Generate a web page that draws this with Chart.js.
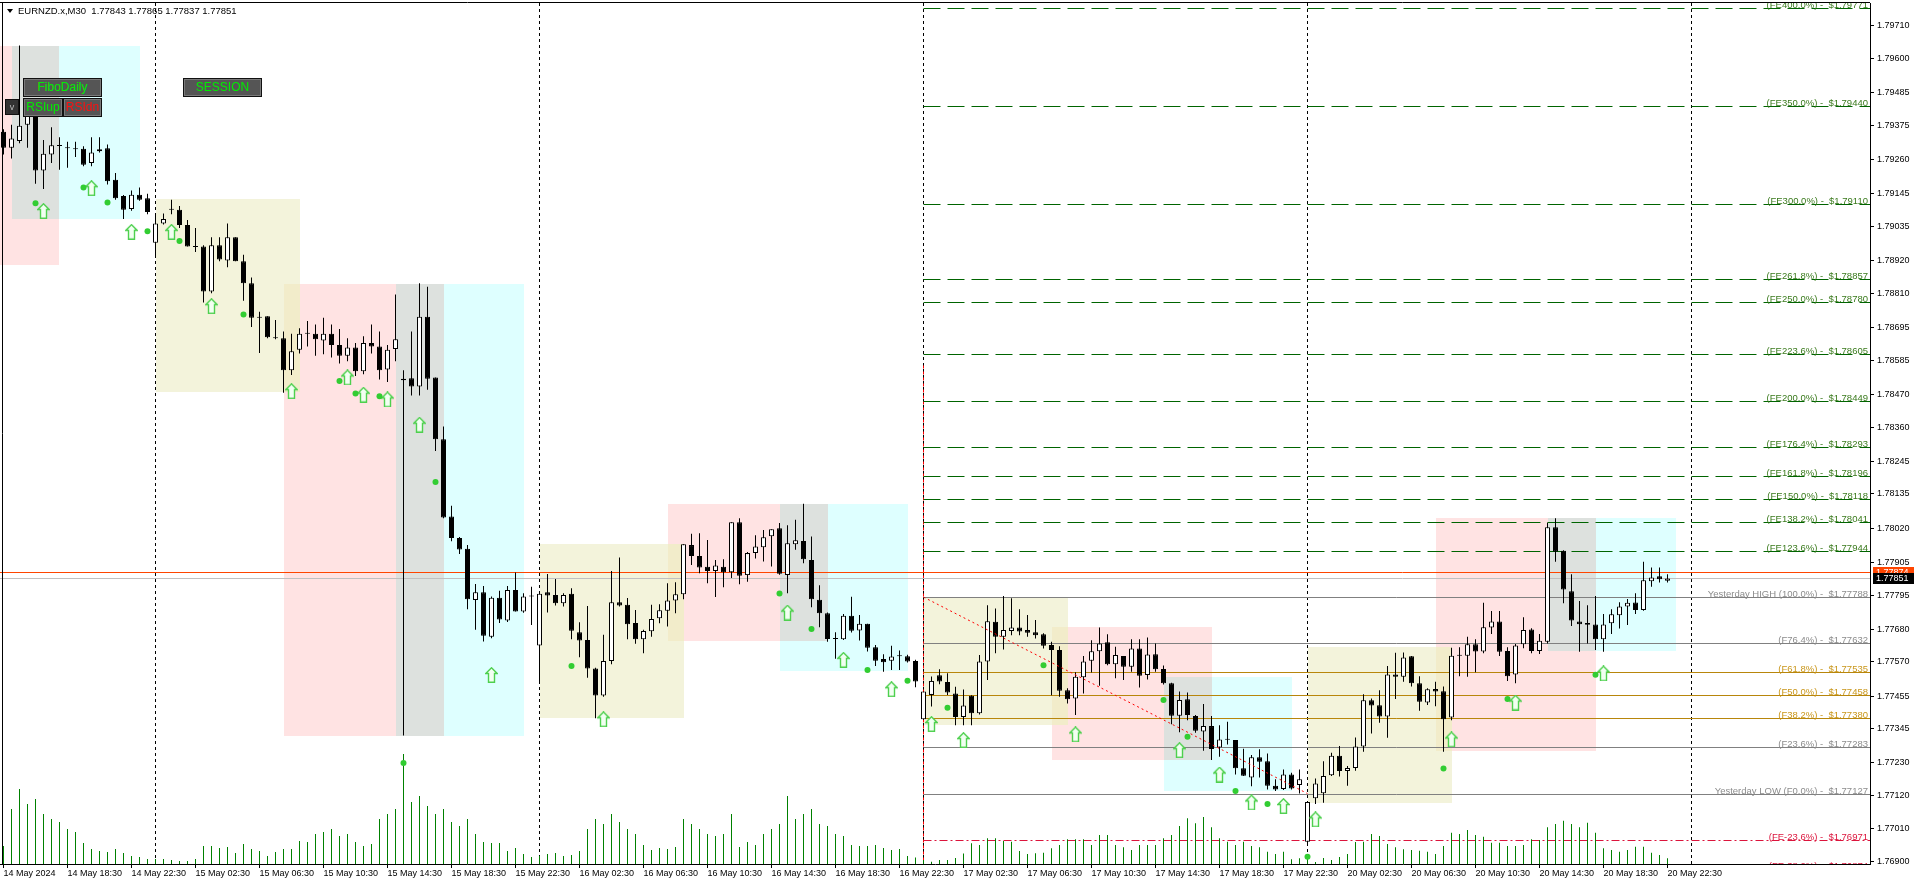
<!DOCTYPE html>
<html>
<head>
<meta charset="utf-8">
<script src="https://cdn.jsdelivr.net/npm/chart.js"></script>
<style>
body { margin: 0; background: #fff; overflow: hidden; }
#wrap { position: relative; width: 1916px; height: 885px; }
#chart { position: absolute; left: 0; top: 0; }
#title { position: absolute; left: 18px; top: 5px; font: 9.5px "Liberation Sans", Arial, sans-serif; line-height: 11px; color: #000; white-space: pre; }
#tri { position: absolute; left: 7px; top: 9px; width: 0; height: 0; border-left: 3px solid transparent; border-right: 3px solid transparent; border-top: 4px solid #000; }
.btn { position: absolute; box-sizing: border-box; background: #555; border: 1px solid #111; box-shadow: inset 0 0 0 1px #7a7a7a; font: 12px "Liberation Sans", Arial, sans-serif; text-align: center; color: #00ee00; }
</style>
</head>
<body>
<div id="wrap">
  <canvas id="chart" width="1916" height="885" style="width:1916px;height:885px"></canvas>
  <div id="tri"></div>
  <div id="title"></div>
  <div class="btn" style="left:23px;top:78px;width:79px;height:19px;line-height:17px">FiboDaily</div>
  <div class="btn" style="left:23px;top:98px;width:40px;height:19px;line-height:17px">RSIup</div>
  <div class="btn" style="left:63px;top:98px;width:39px;height:19px;line-height:17px;color:#ff1010">RSIdn</div>
  <div class="btn" style="left:5px;top:99px;width:14px;height:16px;line-height:14px;background:#333;box-shadow:none;font-size:9px;color:#bbb">v</div>
  <div class="btn" style="left:183px;top:78px;width:79px;height:19px;line-height:17px">SESSION</div>
</div>
<script>
// ---- data (EURNZD.x M30) ----
const symbolName = "EURNZD.x";
const timeframe = "M30";

const opens = [
1.79354,1.79300,1.79323,1.79377,1.79408,1.79223,1.79277,1.79306,1.79301,1.79298,
1.79297,1.79249,1.79288,1.79298,1.79192,1.79138,1.79094,1.79142,1.79130,1.78980,
1.79045,1.79094,1.79091,1.79040,1.78968,1.78968,1.78816,1.78972,1.78921,1.78999,
1.78918,1.78844,1.78731,1.78733,1.78662,1.78659,1.78551,1.78620,1.78677,1.78674,
1.78651,1.78674,1.78636,1.78600,1.78628,1.78548,1.78643,1.78631,1.78554,1.78623,
1.78518,1.78524,1.78497,1.78731,1.78527,1.78319,1.78059,1.77987,1.77951,1.77778,
1.77804,1.77655,1.77786,1.77709,1.77812,1.77740,1.77790,1.77625,1.77804,1.77795,
1.77767,1.77799,1.77670,1.77644,1.77548,1.77457,1.77573,1.77771,1.77762,1.77701,
1.77646,1.77673,1.77717,1.77742,1.77777,1.77798,1.77963,1.77926,1.77890,1.77876,
1.77890,1.77872,1.78040,1.77862,1.77936,1.77956,1.77993,1.78020,1.77862,1.77966,
1.77977,1.77913,1.77779,1.77734,1.77647,1.77646,1.77725,1.77676,1.77698,1.77619,
1.77580,1.77574,1.77590,1.77589,1.77573,1.77377,1.77459,1.77525,1.77502,1.77464,
1.77385,1.77456,1.77397,1.77571,1.77705,1.77655,1.77674,1.77686,1.77677,1.77670,
1.77663,1.77627,1.77610,1.77475,1.77447,1.77518,1.77574,1.77606,1.77636,1.77562,
1.77590,1.77554,1.77615,1.77526,1.77596,1.77546,1.77498,1.77389,1.77444,1.77388,
1.77336,1.77354,1.77282,1.77309,1.77307,1.77212,1.77181,1.77249,1.77236,1.77153,
1.77142,1.77191,1.77156,1.76965,1.77111,1.77128,1.77189,1.77254,1.77203,1.77213,
1.77285,1.77441,1.77424,1.77386,1.77528,1.77520,1.77589,1.77498,1.77433,1.77479,
1.77471,1.77383,1.77591,1.77591,1.77629,1.77605,1.77686,1.77706,1.77607,1.77528,
1.77629,1.77679,1.77607,1.77638,1.78023,1.77944,1.77808,1.77706,1.77701,1.77696,
1.77646,1.77700,1.77727,1.77756,1.77770,1.77745,1.77841,1.77858,1.77843];

const highs = [
1.79362,1.79377,1.79644,1.79447,1.79424,1.79326,1.79369,1.79335,1.79320,1.79320,
1.79305,1.79335,1.79335,1.79311,1.79215,1.79141,1.79156,1.79166,1.79145,1.79076,
1.79079,1.79125,1.79104,1.79057,1.79030,1.78972,1.78999,1.78999,1.79045,1.78999,
1.78940,1.78863,1.78748,1.78733,1.78720,1.78682,1.78674,1.78693,1.78717,1.78705,
1.78728,1.78705,1.78690,1.78659,1.78643,1.78666,1.78705,1.78682,1.78636,1.78806,
1.78551,1.78682,1.78844,1.78832,1.78527,1.78362,1.78095,1.77990,1.77963,1.77832,
1.77825,1.77790,1.77809,1.77825,1.77871,1.77801,1.77823,1.77801,1.77866,1.77849,
1.77801,1.77818,1.77703,1.77758,1.77550,1.77661,1.77876,1.77921,1.77785,1.77745,
1.77678,1.77762,1.77764,1.77835,1.77838,1.77966,1.78001,1.78003,1.77980,1.77913,
1.77915,1.78040,1.78053,1.77940,1.77996,1.78014,1.78016,1.78037,1.78030,1.78048,
1.78102,1.77992,1.77828,1.77736,1.77670,1.77731,1.77789,1.77728,1.77698,1.77627,
1.77596,1.77624,1.77608,1.77594,1.77577,1.77470,1.77521,1.77545,1.77532,1.77486,
1.77477,1.77458,1.77593,1.77761,1.77750,1.77792,1.77784,1.77747,1.77728,1.77711,
1.77666,1.77638,1.77623,1.77481,1.77535,1.77590,1.77643,1.77686,1.77663,1.77621,
1.77590,1.77646,1.77646,1.77652,1.77632,1.77558,1.77500,1.77470,1.77467,1.77391,
1.77428,1.77388,1.77357,1.77369,1.77307,1.77278,1.77257,1.77276,1.77262,1.77175,
1.77208,1.77197,1.77208,1.77099,1.77178,1.77236,1.77264,1.77287,1.77220,1.77316,
1.77461,1.77447,1.77475,1.77556,1.77601,1.77602,1.77590,1.77522,1.77481,1.77503,
1.77487,1.77618,1.77619,1.77655,1.77646,1.77769,1.77741,1.77741,1.77619,1.77630,
1.77720,1.77683,1.77664,1.78038,1.78053,1.77946,1.77865,1.77775,1.77761,1.77792,
1.77731,1.77747,1.77771,1.77782,1.77801,1.77907,1.77888,1.77888,1.77865];

const lows = [
1.79277,1.79264,1.79315,1.79300,1.79179,1.79161,1.79249,1.79226,1.79233,1.79269,
1.79238,1.79238,1.79284,1.79176,1.79125,1.79060,1.79088,1.79122,1.79076,1.78934,
1.79042,1.79076,1.79030,1.78968,1.78949,1.78779,1.78810,1.78918,1.78898,1.78918,
1.78785,1.78697,1.78609,1.78659,1.78656,1.78476,1.78535,1.78608,1.78631,1.78600,
1.78605,1.78594,1.78574,1.78582,1.78532,1.78538,1.78608,1.78520,1.78512,1.78582,
1.77322,1.78466,1.78466,1.78486,1.78280,1.78053,1.77976,1.77933,1.77747,1.77678,
1.77639,1.77650,1.77701,1.77704,1.77740,1.77735,1.77694,1.77500,1.77736,1.77760,
1.77756,1.77646,1.77586,1.77517,1.77380,1.77453,1.77562,1.77756,1.77646,1.77631,
1.77599,1.77655,1.77700,1.77689,1.77734,1.77781,1.77896,1.77868,1.77835,1.77788,
1.77821,1.77852,1.77831,1.77840,1.77918,1.77908,1.77891,1.77863,1.77801,1.77947,
1.77902,1.77754,1.77687,1.77638,1.77581,1.77644,1.77669,1.77642,1.77605,1.77556,
1.77537,1.77543,1.77543,1.77568,1.77485,1.77375,1.77420,1.77495,1.77459,1.77357,
1.77357,1.77357,1.77393,1.77509,1.77599,1.77612,1.77660,1.77660,1.77655,1.77649,
1.77615,1.77458,1.77453,1.77430,1.77391,1.77464,1.77534,1.77490,1.77559,1.77515,
1.77509,1.77537,1.77484,1.77511,1.77537,1.77494,1.77360,1.77333,1.77374,1.77332,
1.77271,1.77240,1.77251,1.77292,1.77191,1.77186,1.77152,1.77181,1.77141,1.77136,
1.77139,1.77141,1.77127,1.76959,1.77092,1.77096,1.77186,1.77184,1.77153,1.77204,
1.77268,1.77329,1.77365,1.77315,1.77445,1.77503,1.77487,1.77406,1.77425,1.77421,
1.77268,1.77374,1.77522,1.77520,1.77535,1.77599,1.77664,1.77590,1.77506,1.77498,
1.77616,1.77599,1.77597,1.77632,1.77907,1.77767,1.77691,1.77604,1.77632,1.77610,
1.77604,1.77664,1.77682,1.77694,1.77731,1.77742,1.77823,1.77837,1.77837];

const closes = [
1.79300,1.79331,1.79374,1.79408,1.79223,1.79280,1.79308,1.79309,1.79298,1.79295,
1.79243,1.79284,1.79295,1.79187,1.79130,1.79091,1.79142,1.79125,1.79084,1.79045,
1.79060,1.79091,1.79040,1.78968,1.78966,1.78816,1.78972,1.78924,1.78999,1.78918,
1.78844,1.78728,1.78728,1.78662,1.78659,1.78551,1.78615,1.78674,1.78674,1.78656,
1.78674,1.78636,1.78600,1.78628,1.78548,1.78643,1.78631,1.78551,1.78620,1.78656,
1.78523,1.78497,1.78731,1.78523,1.78319,1.78056,1.77987,1.77948,1.77781,1.77804,
1.77658,1.77786,1.77713,1.77812,1.77740,1.77790,1.77792,1.77799,1.77793,1.77767,
1.77795,1.77675,1.77642,1.77548,1.77457,1.77573,1.77771,1.77760,1.77697,1.77646,
1.77674,1.77714,1.77744,1.77777,1.77798,1.77966,1.77926,1.77888,1.77876,1.77894,
1.77872,1.78040,1.77860,1.77936,1.77958,1.77989,1.78016,1.77867,1.77969,1.77979,
1.77915,1.77781,1.77734,1.77647,1.77648,1.77725,1.77675,1.77698,1.77618,1.77574,
1.77569,1.77588,1.77589,1.77571,1.77504,1.77470,1.77506,1.77504,1.77467,1.77385,
1.77423,1.77397,1.77571,1.77707,1.77655,1.77677,1.77686,1.77672,1.77668,1.77660,
1.77624,1.77610,1.77473,1.77444,1.77520,1.77571,1.77606,1.77632,1.77562,1.77593,
1.77554,1.77615,1.77523,1.77595,1.77545,1.77498,1.77389,1.77442,1.77391,1.77338,
1.77354,1.77277,1.77309,1.77308,1.77212,1.77187,1.77249,1.77234,1.77153,1.77141,
1.77191,1.77144,1.77175,1.77099,1.77161,1.77186,1.77254,1.77203,1.77213,1.77285,
1.77441,1.77423,1.77386,1.77528,1.77520,1.77585,1.77498,1.77436,1.77478,1.77470,
1.77377,1.77591,1.77593,1.77629,1.77605,1.77687,1.77706,1.77604,1.77522,1.77625,
1.77677,1.77607,1.77641,1.78023,1.77941,1.77814,1.77709,1.77697,1.77695,1.77646,
1.77696,1.77730,1.77756,1.77769,1.77745,1.77845,1.77854,1.77848,1.77851];

// tick volume
const volumes = [
360,1100,1500,1200,1300,1000,900,840,700,640,
420,300,260,240,300,220,160,140,100,100,
100,80,60,60,100,360,360,320,340,220,
400,300,260,160,240,300,300,460,440,600,
640,700,560,600,440,360,400,900,1000,1100,
2200,1240,1360,1160,1000,1100,840,760,900,600,
440,420,420,260,320,200,140,160,200,220,
160,180,260,700,900,800,1000,840,700,600,
380,280,320,300,340,900,800,700,600,560,
600,1000,340,440,380,600,700,800,1360,900,
1000,1100,800,760,600,560,380,360,360,380,
320,280,300,160,130,80,46,80,80,120,
210,414,380,514,514,460,446,260,200,214,
226,314,380,494,494,494,380,580,580,380,
334,280,380,380,380,514,580,760,914,814,
940,734,514,446,380,446,360,334,246,200,
246,94,114,140,40,120,80,140,200,440,
446,600,560,400,334,294,280,266,246,200,
360,626,600,680,580,546,426,426,360,360,
380,494,480,734,800,866,800,734,826,626,
314,280,246,280,346,346,226,180,114];

const timeLabels = ["14 May 2024","14 May 18:30","14 May 22:30","15 May 02:30","15 May 06:30","15 May 10:30",
  "15 May 14:30","15 May 18:30","15 May 22:30","16 May 02:30","16 May 06:30","16 May 10:30","16 May 14:30",
  "16 May 18:30","16 May 22:30","17 May 02:30","17 May 06:30","17 May 10:30","17 May 14:30","17 May 18:30",
  "17 May 22:30","20 May 02:30","20 May 06:30","20 May 10:30","20 May 14:30","20 May 18:30","20 May 22:30"];
const barsPerLabel = 8;

const priceTicks = [1.76900,1.77010,1.77120,1.77230,1.77345,1.77455,1.77570,1.77680,1.77795,1.77905,
  1.78020,1.78135,1.78245,1.78360,1.78470,1.78585,1.78695,1.78810,1.78920,1.79035,1.79145,1.79260,
  1.79375,1.79485,1.79600,1.79710];

// sessions: [startBar, endBar, high, low]
const asiaBoxes = [[19,37,1.79128,1.78478],[67,85,1.77967,1.77382],[115,133,1.77790,1.77358],[163,181,1.77619,1.77096]];
const londonBoxes = [[-3,7,1.79644,1.78906],[35,55,1.78842,1.77322],[83,103,1.78101,1.77641],[131,151,1.77688,1.77240],[179,199,1.78053,1.77271]];
const nyBoxes = [[1,17,1.79644,1.79060],[49,65,1.78842,1.77322],[97,113,1.78101,1.77541],[145,161,1.77518,1.77137],[193,209,1.78053,1.77607]];

const daySeparators = [19, 67, 115, 163, 211];

// daily fibo
const fiboStartBar = 115;
const fiboVerticalTop = 1.78570;
const feUpTexts = ["(FE400.0%)","(FE350.0%)","(FE300.0%)","(FE261.8%)","(FE250.0%)","(FE223.6%)","(FE200.0%)",
  "(FE176.4%)","(FE161.8%)","(FE150.0%)","(FE138.2%)","(FE123.6%)"];
const feUpPrices = [1.79771,1.79440,1.79110,1.78857,1.78780,1.78605,1.78449,1.78293,1.78196,1.78118,1.78041,1.77944];
const fibTexts = ["Yesterday HIGH (100.0%)","(F76.4%)","(F61.8%)","(F50.0%)","(F38.2%)","(F23.6%)","Yesterday LOW (F0.0%)"];
const fibPrices = [1.77788,1.77632,1.77535,1.77458,1.77380,1.77283,1.77127];
const feDownTexts = ["(FE-23.6%)","(FE-38.2%)"];
const feDownPrices = [1.76971,1.76874];
const trendBars = [115, 163];
const trendPrices = [1.77788, 1.77127];

const askPrice = 1.77874;
const bidPrice = 1.77851;

// signals
const dotBars = [4,10,13,18,22,30,42,44,47,50,54,71,97,101,108,113,118,130,145,148,154,158,163,180,188,199];
const dotPrices = [1.79113,1.79166,1.79116,1.79019,1.78986,1.78739,1.78515,1.78473,1.78464,1.77230,1.78175,
  1.77556,1.77800,1.77681,1.77543,1.77507,1.77416,1.77559,1.77442,1.77318,1.77136,1.77092,1.76914,
  1.77211,1.77445,1.77527];
const arrowBars = [5,11,16,21,26,36,43,45,48,52,61,75,98,105,111,116,120,134,147,152,156,160,164,181,189,200];
const arrowPrices = [1.79087,1.79164,1.79017,1.79017,1.78767,1.78481,1.78527,1.78469,1.78453,1.78368,1.77526,
  1.77377,1.77736,1.77577,1.77478,1.77361,1.77307,1.77326,1.77273,1.77191,1.77097,1.77085,1.77040,
  1.77309,1.77433,1.77531];

// ---- title ----
const last = opens.length - 1;
document.getElementById('title').textContent = symbolName + "," + timeframe + "  " +
  [opens[last], highs[last], lows[last], closes[last]].map(v => v.toFixed(5)).join(" ");

// ---- helpers ----
const FONT = '"Liberation Sans", Arial, sans-serif';

function makeArrow() {
    const c = document.createElement('canvas');
    c.width = 13; c.height = 16;
    const g = c.getContext('2d');
    g.beginPath();
    g.moveTo(6.5, 0.8); g.lineTo(12.2, 6.5); g.lineTo(9.5, 6.5); g.lineTo(9.5, 15.2);
    g.lineTo(3.5, 15.2); g.lineTo(3.5, 6.5); g.lineTo(0.8, 6.5); g.closePath();
    g.fillStyle = '#f2fff2'; g.fill();
    g.strokeStyle = '#4ed04e'; g.lineWidth = 1.4; g.stroke();
    return c;
}

function overlap(p, q) {
    const r = [Math.max(p[0], q[0]), Math.min(p[1], q[1]), Math.min(p[2], q[2]), Math.max(p[3], q[3])];
    return (r[0] < r[1] && r[3] < r[2]) ? r : null;
}

const overlays = {
    id: 'overlays',
    beforeDatasetsDraw(chart) {
        const {ctx, chartArea: a, scales} = chart;
        const xs = scales.x, ys = scales.y;
        const py = v => Math.round(ys.getPixelForValue(v)) + 0.5;
        ctx.save();
        ctx.beginPath(); ctx.rect(a.left, a.top, a.right - a.left, a.bottom - a.top); ctx.clip();

        // session boxes
        const box = (b, color) => {
            const x0 = Math.round(xs.getPixelForValue(b[0])), x1 = Math.round(xs.getPixelForValue(b[1]));
            const y0 = Math.round(ys.getPixelForValue(b[2])), y1 = Math.round(ys.getPixelForValue(b[3]));
            ctx.fillStyle = color;
            ctx.fillRect(x0, y0, x1 - x0, y1 - y0);
        };
        londonBoxes.forEach(b => box(b, '#ffe3e3'));
        nyBoxes.forEach(b => box(b, '#deffff'));
        asiaBoxes.forEach(b => box(b, '#f3f3db'));
        londonBoxes.forEach(l => {
            nyBoxes.forEach(n => { const r = overlap(l, n); if (r) box(r, '#dde1de'); });
            asiaBoxes.forEach(s => { const r = overlap(l, s); if (r) box(r, '#f2ecca'); });
        });

        ctx.lineWidth = 1;
        // day separators
        ctx.strokeStyle = '#000';
        ctx.setLineDash([3, 3]);
        daySeparators.forEach(d => {
            const x = xs.getPixelForValue(d);
            ctx.beginPath(); ctx.moveTo(x, a.top); ctx.lineTo(x, a.bottom); ctx.stroke();
        });
        // fibo vertical
        const fx = xs.getPixelForValue(fiboStartBar);
        ctx.strokeStyle = '#ff0000';
        ctx.beginPath(); ctx.moveTo(fx, py(fiboVerticalTop)); ctx.lineTo(fx, a.bottom); ctx.stroke();

        // fibo levels
        const hline = (p, color, dash) => {
            const y = py(p);
            ctx.strokeStyle = color; ctx.setLineDash(dash);
            ctx.beginPath(); ctx.moveTo(fx, y); ctx.lineTo(a.right, y); ctx.stroke();
        };
        feUpPrices.forEach(p => hline(p, '#006400', [17, 7]));
        fibPrices.forEach((p, i) => hline(p, /F(61\.8|50\.0|38\.2)%/.test(fibTexts[i]) ? '#b8860b' : '#808080', []));
        feDownPrices.forEach(p => hline(p, '#dc143c', [8, 3, 2, 3]));

        // bid / ask lines
        ctx.setLineDash([]);
        ctx.strokeStyle = '#c0c0c0';
        ctx.beginPath(); ctx.moveTo(a.left, py(bidPrice)); ctx.lineTo(a.right, py(bidPrice)); ctx.stroke();
        ctx.strokeStyle = '#ff4500';
        ctx.beginPath(); ctx.moveTo(a.left, py(askPrice)); ctx.lineTo(a.right, py(askPrice)); ctx.stroke();
        ctx.restore();
    },
    afterDatasetsDraw(chart) {
        const {ctx, chartArea: a, scales} = chart;
        const ys = scales.y;
        ctx.save();
        ctx.beginPath(); ctx.rect(a.left, a.top, a.right - a.left, a.bottom - a.top); ctx.clip();
        ctx.font = '9.5px ' + FONT;
        ctx.textAlign = 'right';
        ctx.textBaseline = 'alphabetic';
        const label = (t, p, color) => {
            ctx.fillStyle = color;
            ctx.fillText(t + ' -  $' + p.toFixed(5), a.right - 2, Math.round(ys.getPixelForValue(p)));
        };
        feUpPrices.forEach((p, i) => label(feUpTexts[i], p, '#3a7a1c'));
        fibPrices.forEach((p, i) => label(fibTexts[i], p, /F(61\.8|50\.0|38\.2)%/.test(fibTexts[i]) ? '#c9961a' : '#8c8c8c'));
        feDownPrices.forEach((p, i) => label(feDownTexts[i], p, '#dc143c'));
        ctx.restore();
    },
    afterDraw(chart) {
        const {ctx, chartArea: a, scales} = chart;
        const ys = scales.y;
        ctx.save();
        ctx.strokeStyle = '#000'; ctx.lineWidth = 1;
        ctx.beginPath(); ctx.moveTo(0, 2.5); ctx.lineTo(a.right, 2.5); ctx.stroke();
        ctx.beginPath(); ctx.moveTo(2.5, a.top); ctx.lineTo(2.5, a.bottom); ctx.stroke();
        // price tags on the axis
        const tag = (p, bg) => {
            const y = Math.round(ys.getPixelForValue(p));
            ctx.fillStyle = bg;
            ctx.fillRect(a.right + 3, y - 5, 41, 11);
            ctx.fillStyle = '#fff';
            ctx.font = '9px ' + FONT;
            ctx.textAlign = 'left'; ctx.textBaseline = 'middle';
            ctx.fillText(p.toFixed(5), a.right + 6, y + 0.5);
        };
        tag(askPrice, '#ff4500');
        tag(bidPrice, '#000');
        ctx.restore();
    }
};

// ---- datasets ----
const bars = opens.map((_, i) => i);
const wickData = bars.map(i => ({x: i, y: [lows[i], highs[i]]}));
const bodyData = bars.map(i => ({x: i, y: [opens[i], closes[i]]}));
const bodyFill = bars.map(i => closes[i] >= opens[i] ? '#ffffff' : '#000000');
const volData = volumes.map((v, i) => ({x: i, y: v}));
const dotData = dotBars.map((b, i) => ({x: b, y: dotPrices[i]}));
const arrowData = arrowBars.map((b, i) => ({x: b, y: arrowPrices[i]}));
const trendData = trendBars.map((b, i) => ({x: b, y: trendPrices[i]}));

const pxPerBar = 8;
const plotWidth = 1870;
const xMin = -0.4375;

new Chart(document.getElementById('chart').getContext('2d'), {
    type: 'bar',
    data: {
        datasets: [
            {type: 'line', data: dotData, showLine: false, pointRadius: 3, pointBackgroundColor: '#32cd32',
             pointBorderWidth: 0, order: 0},
            {type: 'line', data: arrowData, showLine: false, pointStyle: makeArrow(), pointRadius: 6, order: 0},
            {type: 'line', data: trendData, borderColor: '#ff0000', borderWidth: 1, borderDash: [2, 3],
             pointRadius: 0, fill: false, order: 1},
            {data: bodyData, backgroundColor: bodyFill, borderColor: '#000', borderWidth: 1, borderSkipped: false,
             barThickness: 5, minBarLength: 1, grouped: false, inflateAmount: 0, order: 2},
            {data: wickData, backgroundColor: '#000', borderWidth: 0, barThickness: 1, grouped: false,
             inflateAmount: 0, order: 3},
            {data: volData, yAxisID: 'yv', backgroundColor: '#008000', borderWidth: 0, barThickness: 1,
             grouped: false, inflateAmount: 0, order: 4}
        ]
    },
    options: {
        responsive: false,
        animation: false,
        events: [],
        devicePixelRatio: 1,
        layout: { padding: {top: 3, left: 0, right: 0, bottom: 0}, autoPadding: false },
        plugins: { legend: { display: false }, tooltip: { enabled: false } },
        scales: {
            x: {
                type: 'linear',
                offset: false,
                min: xMin,
                max: xMin + plotWidth / pxPerBar,
                afterBuildTicks: s => { s.ticks = timeLabels.map((_, k) => ({value: k * barsPerLabel})); },
                afterFit: s => { s.height = 21; s.paddingLeft = 0; s.paddingRight = 0; },
                ticks: { autoSkip: false, maxRotation: 0, minRotation: 0, align: 'start', padding: 0,
                         color: '#000', font: {family: FONT, size: 9}, callback: (v, i) => timeLabels[i] },
                grid: { drawOnChartArea: false, offset: false, tickLength: 4, color: '#000' },
                border: { color: '#000' }
            },
            y: {
                position: 'right',
                min: 1.76890,
                max: 1.79787,
                afterBuildTicks: s => { s.ticks = priceTicks.map(v => ({value: v})); },
                afterFit: s => { s.width = 46; s.paddingTop = 0; s.paddingBottom = 0; },
                ticks: { autoSkip: false, padding: 3, color: '#000', font: {family: FONT, size: 9},
                         callback: v => v.toFixed(5) },
                grid: { drawOnChartArea: false, tickLength: 4, color: '#000' },
                border: { color: '#000' }
            },
            yv: {
                display: false,
                min: 0,
                max: 17220
            }
        }
    },
    plugins: [overlays]
});
</script>
</body>
</html>
